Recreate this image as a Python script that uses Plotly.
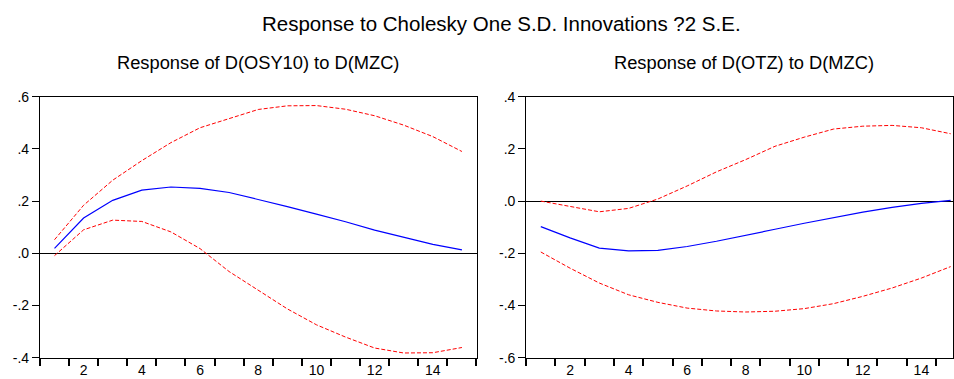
import plotly.graph_objects as go

# Impulse responses over 15 periods
periods = list(range(1, 16))

# Response of D(OSY10) to D(MZC)
osy_resp = [0.019, 0.135, 0.203, 0.242, 0.254, 0.249, 0.233, 0.207, 0.179,
            0.150, 0.121, 0.089, 0.061, 0.034, 0.013]
osy_upper = [0.052, 0.184, 0.280, 0.355, 0.424, 0.481, 0.516, 0.551, 0.565,
             0.566, 0.552, 0.527, 0.491, 0.447, 0.390]
osy_lower = [-0.009, 0.090, 0.127, 0.122, 0.082, 0.018, -0.070, -0.143, -0.213,
             -0.274, -0.321, -0.363, -0.382, -0.381, -0.361]

# Response of D(OTZ) to D(MZC)
otz_resp = [-0.098, -0.141, -0.180, -0.191, -0.189, -0.174, -0.154, -0.132,
            -0.108, -0.085, -0.064, -0.042, -0.024, -0.009, 0.003]
otz_upper = [0.000, -0.020, -0.041, -0.028, 0.008, 0.058, 0.112, 0.159, 0.210,
             0.245, 0.276, 0.287, 0.290, 0.281, 0.258]
otz_lower = [-0.195, -0.257, -0.314, -0.359, -0.388, -0.410, -0.421, -0.425,
             -0.422, -0.412, -0.393, -0.365, -0.333, -0.295, -0.251]

x_tick_vals = [2, 4, 6, 8, 10, 12, 14]
x_tick_text = ["2", "4", "6", "8", "10", "12", "14"]
left_y_vals = [-0.4, -0.2, 0.0, 0.2, 0.4, 0.6]
left_y_text = ["-.4", "-.2", ".0", ".2", ".4", ".6"]
right_y_vals = [-0.6, -0.4, -0.2, 0.0, 0.2, 0.4]
right_y_text = ["-.6", "-.4", "-.2", ".0", ".2", ".4"]

main_title = "Response to Cholesky One S.D. Innovations ?2 S.E."
left_title = "Response of D(OSY10) to D(MZC)"
right_title = "Response of D(OTZ) to D(MZC)"

FONT = "Liberation Sans, Arial, sans-serif"
W, H = 954, 379

fig = go.Figure()

band = dict(color="#FF0000", width=1, dash="4px,2px")
resp = dict(color="#0000FF", width=1.2)

for xa, ya, r, u, lo in [("x", "y", osy_resp, osy_upper, osy_lower),
                         ("x2", "y2", otz_resp, otz_upper, otz_lower)]:
    fig.add_trace(go.Scatter(x=periods, y=u, mode="lines", line=band,
                             xaxis=xa, yaxis=ya, showlegend=False))
    fig.add_trace(go.Scatter(x=periods, y=lo, mode="lines", line=band,
                             xaxis=xa, yaxis=ya, showlegend=False))
    fig.add_trace(go.Scatter(x=periods, y=r, mode="lines", line=resp,
                             xaxis=xa, yaxis=ya, showlegend=False))

# plot frames: top edge ~92.6 px, bottom edge ~365 px from the top
y_dom = [1 - 365.1 / H, 1 - 92.6 / H]


def xaxis(domain, rng, anchor):
    return dict(domain=domain, range=rng, anchor=anchor, showgrid=False,
                zeroline=False, showline=True, linecolor="black", linewidth=1,
                mirror=True, tickmode="array", tickvals=x_tick_vals,
                ticktext=x_tick_text, ticks="outside", ticklen=0,
                tickcolor="rgba(0,0,0,0)",
                minor=dict(ticks="outside", ticklen=7, tickwidth=1.5,
                           tickcolor="black", tick0=0.5, dtick=1,
                           showgrid=False),
                tickfont=dict(family=FONT, size=14, color="black"),
                fixedrange=True)


def yaxis(anchor, rng, vals, text):
    return dict(domain=y_dom, range=rng, anchor=anchor, showgrid=False,
                zeroline=True, zerolinecolor="black", zerolinewidth=1,
                showline=True, linecolor="black", linewidth=1, mirror=True,
                tickmode="array", tickvals=vals, ticktext=text,
                ticks="outside", ticklen=7, tickcolor="black",
                tickfont=dict(family=FONT, size=14, color="black"),
                fixedrange=True)


fig.update_layout(
    width=W, height=H,
    margin=dict(l=0, r=0, t=0, b=0),
    paper_bgcolor="white", plot_bgcolor="white",
    font=dict(family=FONT, color="black"),
    xaxis=xaxis([40 / W, 477 / W], [0.5, 15.5], "y"),
    yaxis=yaxis("x", [-0.4, 0.6], left_y_vals, left_y_text),
    xaxis2=xaxis([526.7 / W, 1.0], [0.5, 15.08], "y2"),
    yaxis2=yaxis("x2", [-0.6, 0.4], right_y_vals, right_y_text),
)

fig.add_annotation(text=main_title, x=502 / W, y=1 - 16.5 / H, xref="paper",
                   yref="paper", xanchor="center", yanchor="middle",
                   showarrow=False, font=dict(family=FONT, size=20.5))
fig.add_annotation(text=left_title, x=258 / W, y=1 - 56.5 / H, xref="paper",
                   yref="paper", xanchor="center", yanchor="middle",
                   showarrow=False, font=dict(family=FONT, size=18.3))
fig.add_annotation(text=right_title, x=745 / W, y=1 - 56.5 / H, xref="paper",
                   yref="paper", xanchor="center", yanchor="middle",
                   showarrow=False, font=dict(family=FONT, size=18.3))

fig.write_html("out.html")
